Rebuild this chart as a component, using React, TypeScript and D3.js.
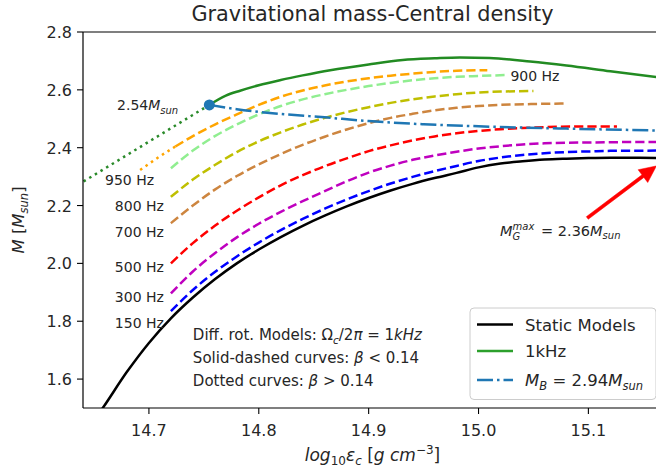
import React from "react";
import * as d3 from "d3";

// ---------- data ----------
const staticX = [14.645, 14.658, 14.68, 14.70, 14.72, 14.74, 14.76, 14.78, 14.80, 14.82, 14.84, 14.86, 14.88, 14.90, 14.92, 14.94, 14.96, 14.98, 15.00, 15.02, 15.04, 15.06, 15.08, 15.10, 15.12, 15.14, 15.17];
const staticM = [1.43, 1.50, 1.625, 1.725, 1.81, 1.882, 1.945, 2.0, 2.048, 2.091, 2.13, 2.165, 2.197, 2.226, 2.252, 2.275, 2.295, 2.313, 2.332, 2.345, 2.353, 2.359, 2.362, 2.364, 2.365, 2.365, 2.364];

const hz150X = [14.72, 14.74, 14.76, 14.78, 14.80, 14.82, 14.84, 14.86, 14.88, 14.90, 14.92, 14.94, 14.96, 14.98, 15.00, 15.02, 15.04, 15.06, 15.08, 15.10, 15.12, 15.17];
const hz150M = [1.835, 1.908, 1.97, 2.024, 2.072, 2.115, 2.154, 2.189, 2.221, 2.25, 2.276, 2.299, 2.319, 2.337, 2.354, 2.366, 2.375, 2.381, 2.385, 2.387, 2.389, 2.39];

const hz300X = [14.72, 14.74, 14.76, 14.78, 14.80, 14.82, 14.84, 14.86, 14.88, 14.90, 14.92, 14.94, 14.96, 14.98, 15.00, 15.02, 15.04, 15.06, 15.10, 15.17];
const hz300M = [1.896, 1.972, 2.035, 2.09, 2.137, 2.178, 2.215, 2.25, 2.284, 2.314, 2.338, 2.358, 2.373, 2.386, 2.397, 2.405, 2.411, 2.415, 2.418, 2.42];

const hz500X = [14.72, 14.74, 14.76, 14.78, 14.80, 14.82, 14.84, 14.86, 14.88, 14.90, 14.92, 14.94, 14.96, 14.98, 15.00, 15.02, 15.04, 15.06, 15.09, 15.126];
const hz500M = [2.00, 2.07, 2.13, 2.182, 2.228, 2.27, 2.305, 2.336, 2.363, 2.388, 2.408, 2.425, 2.439, 2.45, 2.458, 2.464, 2.468, 2.471, 2.473, 2.473];

const hz700X = [14.72, 14.74, 14.76, 14.78, 14.80, 14.82, 14.84, 14.86, 14.88, 14.90, 14.92, 14.94, 14.96, 14.98, 15.00, 15.02, 15.05, 15.081];
const hz700M = [2.139, 2.2, 2.255, 2.302, 2.342, 2.378, 2.41, 2.438, 2.463, 2.485, 2.503, 2.517, 2.529, 2.538, 2.544, 2.548, 2.551, 2.553];

const hz800X = [14.72, 14.74, 14.76, 14.78, 14.80, 14.82, 14.84, 14.86, 14.88, 14.90, 14.92, 14.94, 14.96, 14.98, 15.00, 15.02, 15.05];
const hz800M = [2.23, 2.29, 2.34, 2.385, 2.422, 2.453, 2.48, 2.503, 2.523, 2.54, 2.555, 2.567, 2.577, 2.585, 2.591, 2.594, 2.596];

const hz900X = [14.72, 14.74, 14.76, 14.78, 14.80, 14.82, 14.84, 14.86, 14.88, 14.90, 14.92, 14.94, 14.96, 14.98, 15.00, 15.024];
const hz900M = [2.329, 2.39, 2.44, 2.48, 2.515, 2.544, 2.567, 2.585, 2.6, 2.613, 2.624, 2.633, 2.64, 2.645, 2.648, 2.651];

const hz950X = [14.724, 14.74, 14.76, 14.78, 14.80, 14.82, 14.84, 14.86, 14.88, 14.90, 14.92, 14.94, 14.96, 14.98, 15.008];
const hz950M = [2.404, 2.44, 2.48, 2.515, 2.548, 2.576, 2.598, 2.615, 2.629, 2.64, 2.649, 2.656, 2.662, 2.666, 2.668];
const hz950DotX = [14.692, 14.708, 14.724];
const hz950DotM = [2.323, 2.365, 2.404];

const khzX = [14.755, 14.77, 14.783, 14.80, 14.82, 14.84, 14.865, 14.90, 14.931, 14.96, 14.983, 15.01, 15.047, 15.08, 15.12, 15.17];
const khzM = [2.548, 2.58, 2.597, 2.616, 2.634, 2.65, 2.668, 2.688, 2.703, 2.709, 2.712, 2.71, 2.698, 2.684, 2.664, 2.64];
const khzDotX = [14.62, 14.675, 14.71, 14.755];
const khzDotM = [2.236, 2.363, 2.444, 2.548];

const mbX = [14.755, 14.78, 14.81, 14.86, 14.90, 14.95, 15.0, 15.08, 15.17];
const mbM = [2.548, 2.533, 2.52, 2.505, 2.492, 2.481, 2.474, 2.466, 2.459];

const markerPoint = [14.755, 2.548];

const xTicks = [14.7, 14.8, 14.9, 15.0, 15.1];
const yTicks = [1.6, 1.8, 2.0, 2.2, 2.4, 2.6, 2.8];

const freqLabels = ["950 Hz", "800 Hz", "700 Hz", "500 Hz", "300 Hz", "150 Hz", "900 Hz"];
const freqLabelX = [14.660, 14.669, 14.669, 14.669, 14.669, 14.669, 15.029];
const freqLabelM = [2.271, 2.181, 2.091, 1.970, 1.866, 1.776, 2.631];

const arrowTail = [15.099, 2.157];
const arrowTip = [15.162, 2.337];

const legendLabels = ["Static Models", "1kHz", "M_B = 2.94M_sun"];

// ---------- layout ----------
const W = 656, H = 473;
const L = 83, R = 662, T = 32, B = 408;
const x = d3.scaleLinear().domain([14.64, 15.167]).range([L, R]);
const y = d3.scaleLinear().domain([1.5, 2.8]).range([B, T]);
const line = d3.line<[number, number]>().x(d => x(d[0])).y(d => y(d[1])).curve(d3.curveMonotoneX);
const zip = (xs: number[], ms: number[]) => xs.map((v, i) => [v, ms[i]] as [number, number]);

const FONT = "DejaVu Sans, sans-serif";
const TXT = "#262626";
const LW = 2.5;
const DASH = "9.25,4";
const DOT = "2.5,4.1";
const DASHDOT = "16,4,2.5,4";

const curves = [
  { xs: staticX, ms: staticM, color: "#000000", dash: null },
  { xs: hz150X, ms: hz150M, color: "#0000ff", dash: DASH },
  { xs: hz300X, ms: hz300M, color: "#bf00bf", dash: DASH },
  { xs: hz500X, ms: hz500M, color: "#ff0000", dash: DASH },
  { xs: hz700X, ms: hz700M, color: "#cd853f", dash: DASH },
  { xs: hz800X, ms: hz800M, color: "#bfbf00", dash: DASH },
  { xs: hz900X, ms: hz900M, color: "#90ee90", dash: DASH },
  { xs: hz950X, ms: hz950M, color: "#ffa500", dash: DASH },
  { xs: hz950DotX, ms: hz950DotM, color: "#ffa500", dash: DOT },
  { xs: khzDotX, ms: khzDotM, color: "#2a8a2a", dash: DOT },
  { xs: mbX, ms: mbM, color: "#1f77b4", dash: DASHDOT },
  { xs: khzX, ms: khzM, color: "#228b22", dash: null },
];

export default function App() {
  const fs = 16;
  const ax = x(arrowTail[0]), ay = y(arrowTail[1]);
  const tx = x(arrowTip[0]), ty = y(arrowTip[1]);
  const ang = Math.atan2(ty - ay, tx - ax);
  const hl = 17, hw = 8, sw = 1.6;
  const bx = tx - hl * Math.cos(ang), by = ty - hl * Math.sin(ang);
  const px = -Math.sin(ang), py = Math.cos(ang);
  const arrowPts = [
    [ax + px * sw, ay + py * sw],
    [bx + px * sw, by + py * sw],
    [bx + px * hw, by + py * hw],
    [tx, ty],
    [bx - px * hw, by - py * hw],
    [bx - px * sw, by - py * sw],
    [ax - px * sw, ay - py * sw],
  ];

  const blockX = x(14.74);
  const blockY = y(1.735);
  const annX = x(15.0196), annY = y(2.095);

  const legX = 470, legY = 308, legW = 186, legH = 91.5;
  const legRows = [324.5, 351, 380];

  return (
    <svg width={W} height={H} style={{ position: "absolute", left: 0, top: 0, background: "#fff" }} fontFamily={FONT}>
      <defs>
        <clipPath id="plot">
          <rect x={L} y={T} width={R - L} height={B - T} />
        </clipPath>
      </defs>
      <rect x={0} y={0} width={W} height={H} fill="#fff" />

      {/* title */}
      <text x={(L + R) / 2} y={21} textAnchor="middle" fontSize={20.8} fill={TXT}>Gravitational mass-Central density</text>

      {/* curves */}
      <g clipPath="url(#plot)">
        {curves.map((c, i) => (
          <path key={i} d={line(zip(c.xs, c.ms)) || ""} fill="none" stroke={c.color} strokeWidth={LW}
            strokeDasharray={c.dash || undefined} />
        ))}
        <circle cx={x(markerPoint[0])} cy={y(markerPoint[1])} r={5.5} fill="#1f77b4" />
      </g>

      {/* spines */}
      <line x1={L} x2={L} y1={T} y2={B} stroke="#000" strokeWidth={1.2} />
      <line x1={L} x2={R} y1={B} y2={B} stroke="#000" strokeWidth={1.2} />
      <line x1={L} x2={R} y1={T} y2={T} stroke="#000" strokeWidth={1.2} />

      {/* ticks */}
      {xTicks.map(t => (
        <g key={"x" + t}>
          <line x1={x(t)} x2={x(t)} y1={B} y2={B + 6} stroke="#000" strokeWidth={1.1} />
          <text x={x(t)} y={436} textAnchor="middle" fontSize={fs} fill={TXT}>{t.toFixed(1)}</text>
        </g>
      ))}
      {yTicks.map(t => (
        <g key={"y" + t}>
          <line x1={L - 6} x2={L} y1={y(t)} y2={y(t)} stroke="#000" strokeWidth={1.1} />
          <text x={L - 11} y={y(t) + 6} textAnchor="end" fontSize={fs} fill={TXT}>{t.toFixed(1)}</text>
        </g>
      ))}

      {/* axis labels */}
      <text x={(L + R) / 2} y={461} textAnchor="middle" fontSize={17} fill={TXT}>
        <tspan fontStyle="italic">log</tspan>
        <tspan fontSize={12} dy={4}>10</tspan>
        <tspan fontStyle="italic" dy={-4}>ε</tspan>
        <tspan fontStyle="italic" fontSize={12} dy={4}>c</tspan>
        <tspan dy={-4}> [</tspan>
        <tspan fontStyle="italic">g cm</tspan>
        <tspan fontSize={12} dy={-7}>−3</tspan>
        <tspan dy={7}>]</tspan>
      </text>
      <text transform={`translate(24,${(T + B) / 2}) rotate(-90)`} textAnchor="middle" fontSize={16.5} fill={TXT}>
        <tspan fontStyle="italic">M</tspan>
        <tspan> [</tspan>
        <tspan fontStyle="italic">M</tspan>
        <tspan fontStyle="italic" fontSize={11.5} dy={4}>sun</tspan>
        <tspan dy={-4}>]</tspan>
      </text>

      {/* frequency labels */}
      {freqLabels.map((s, i) => (
        <text key={s} x={x(freqLabelX[i])} y={y(freqLabelM[i])} fontSize={14} fill={TXT}>{s}</text>
      ))}

      {/* 2.54 M_sun label */}
      <text x={x(14.671)} y={y(2.530)} fontSize={14} fill={TXT}>
        <tspan>2.54</tspan>
        <tspan fontStyle="italic">M</tspan>
        <tspan fontStyle="italic" fontSize={10} dy={3.5}>sun</tspan>
      </text>

      {/* arrow + max annotation */}
      <polygon points={arrowPts.map(p => p.join(",")).join(" ")} fill="#ff0000" stroke="#ff0000" strokeWidth={0.5} />
      <text x={annX} y={annY} fontSize={14.5} fill={TXT}>
        <tspan fontStyle="italic">M</tspan>
        <tspan fontStyle="italic" fontSize={10} dy={-6}>max</tspan>
      </text>
      <text x={annX + 12.5} y={annY + 4} fontSize={10} fill={TXT} fontStyle="italic">G</text>
      <text x={annX + 41} y={annY} fontSize={14.5} fill={TXT}>
        <tspan>= 2.36</tspan>
        <tspan fontStyle="italic">M</tspan>
        <tspan fontStyle="italic" fontSize={10} dy={3.5}>sun</tspan>
      </text>

      {/* text block */}
      <text x={blockX} y={blockY} fontSize={15} fill={TXT}>
        <tspan>Diff. rot. Models: Ω</tspan>
        <tspan fontStyle="italic" fontSize={10.5} dy={3.5}>c</tspan>
        <tspan dy={-3.5}>/2</tspan>
        <tspan fontStyle="italic">π</tspan>
        <tspan> = 1</tspan>
        <tspan fontStyle="italic">kHz</tspan>
      </text>
      <text x={blockX} y={blockY + 23} fontSize={15} fill={TXT}>
        <tspan>Solid-dashed curves: </tspan>
        <tspan fontStyle="italic">β</tspan>
        <tspan> &lt; 0.14</tspan>
      </text>
      <text x={blockX} y={blockY + 46} fontSize={15} fill={TXT}>
        <tspan>Dotted curves: </tspan>
        <tspan fontStyle="italic">β</tspan>
        <tspan> &gt; 0.14</tspan>
      </text>

      {/* legend */}
      <rect x={legX} y={legY} width={legW} height={legH} rx={4} fill="#fff" fillOpacity={0.8} stroke="#cccccc" strokeWidth={1} />
      <line x1={477} x2={513} y1={legRows[0]} y2={legRows[0]} stroke="#000" strokeWidth={LW} />
      <line x1={477} x2={513} y1={legRows[1]} y2={legRows[1]} stroke="#2ca02c" strokeWidth={LW} />
      <line x1={477} x2={513} y1={legRows[2]} y2={legRows[2]} stroke="#1f77b4" strokeWidth={LW} strokeDasharray={DASHDOT} />
      <text x={525} y={legRows[0] + 6} fontSize={16.5} fill={TXT}>{legendLabels[0]}</text>
      <text x={525} y={legRows[1] + 6} fontSize={16.5} fill={TXT}>{legendLabels[1]}</text>
      <text x={525} y={legRows[2] + 6} fontSize={16.5} fill={TXT}>
        <tspan fontStyle="italic">M</tspan>
        <tspan fontStyle="italic" fontSize={11.5} dy={4}>B</tspan>
        <tspan dy={-4}> = 2.94</tspan>
        <tspan fontStyle="italic">M</tspan>
        <tspan fontStyle="italic" fontSize={11.5} dy={4}>sun</tspan>
      </text>
    </svg>
  );
}
